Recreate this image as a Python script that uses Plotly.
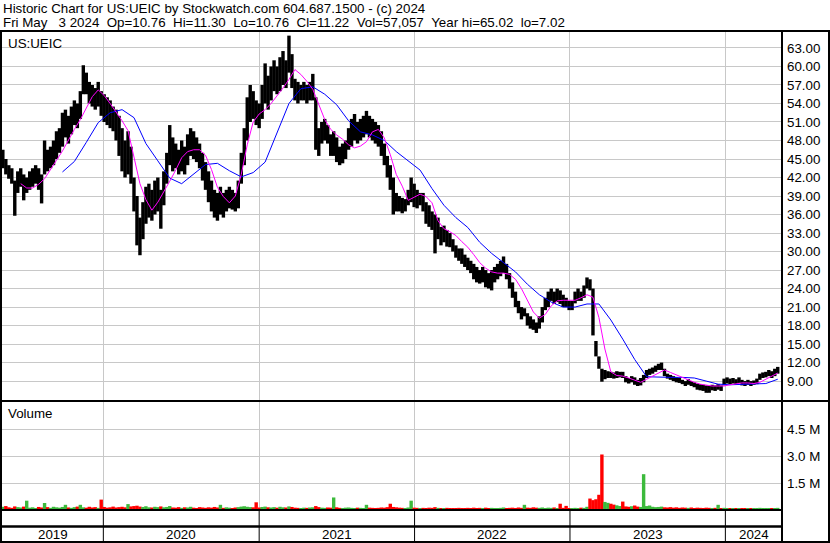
import pandas as pd
import plotly.graph_objects as go

# ---------------- data ----------------
first_week = "2019-05-10"
n_weeks = 261

week_high = [
    46.5, 45.0, 44.0, 43.5, 41.5, 43.0, 43.5, 42.5, 42.0, 43.0,
    43.5, 44.0, 43.5, 42.5, 48.0, 46.5, 47.0, 48.0, 49.5, 50.0,
    52.5, 53.0, 52.0, 53.5, 54.5, 54.0, 56.0, 60.2, 59.0, 57.5,
    57.0, 56.5, 57.5, 56.0, 55.5, 55.0, 54.5, 53.5, 53.0, 52.0,
    50.0, 48.0, 49.5, 47.0, 42.0, 39.0, 35.5, 38.0, 40.5, 41.0,
    40.0, 41.5, 42.0, 40.0, 43.0, 46.0, 50.5, 48.5, 47.5, 46.5,
    48.0, 47.0, 49.0, 50.0, 49.5, 48.5, 47.5, 46.0, 44.5, 43.0,
    41.5, 40.0, 39.5, 40.5, 39.5, 40.0, 40.5, 40.0, 39.5, 41.5,
    46.0, 50.0, 55.0, 57.0, 56.0, 54.5, 54.0, 57.0, 60.5, 58.5,
    60.0, 61.0, 60.0, 61.5, 62.5, 61.0, 65.0, 62.0, 58.0, 57.5,
    57.0, 57.5, 57.0, 57.5, 58.8, 55.0, 50.0, 51.0, 51.5, 50.5,
    49.0, 49.5, 48.5, 47.0, 47.5, 48.0, 50.0, 51.5, 52.3, 51.0,
    51.5, 52.0, 52.8, 52.0, 51.5, 51.0, 50.5, 49.5, 47.5, 45.5,
    44.0, 42.0, 39.5, 39.0, 38.7, 38.5, 40.0, 42.0, 41.0, 40.0,
    39.5, 39.5, 38.0, 37.5, 36.5, 36.0, 35.5, 34.0, 34.2, 33.5,
    33.0, 32.0, 31.0, 30.5, 30.5, 29.5, 29.0, 28.5, 28.0, 27.5,
    27.0, 27.5, 27.0, 26.5, 27.0, 27.5, 28.0, 28.5, 29.2, 28.0,
    26.5, 25.0, 23.5, 22.0, 21.0, 20.8, 20.0, 19.5, 19.0, 18.5,
    19.5, 21.0, 22.5, 23.5, 24.0, 23.5, 24.0, 23.7, 23.0, 22.5,
    22.0, 22.0, 23.5, 24.0, 23.5, 24.5, 25.8, 25.5, 24.0, 15.5,
    13.0, 11.0, 10.8, 10.6, 10.5, 10.4, 10.6, 10.5, 10.5, 9.8,
    9.5, 9.8, 9.6, 9.2, 9.5, 10.0, 10.8, 11.0, 11.2, 11.5,
    11.8, 12.0, 11.0, 10.2, 10.0, 9.8, 9.6, 9.5, 9.2, 9.0,
    9.3, 9.0, 8.8, 8.6, 8.5, 8.4, 8.3, 8.2, 8.4, 8.3,
    8.5, 8.3, 9.4, 9.6, 9.4, 9.5, 9.3, 9.6, 9.2, 9.0,
    9.2, 9.0, 9.1, 9.4, 10.2, 10.4, 10.5, 10.8, 10.6, 11.0,
    11.3,
]

week_low = [
    43.5, 42.5, 41.8, 41.0, 35.8, 39.5, 40.5, 38.3, 39.5, 40.0,
    40.5, 41.0, 40.0, 37.8, 42.5, 43.0, 43.5, 44.0, 45.0, 46.0,
    47.0, 48.5, 47.5, 49.0, 50.5, 50.0, 51.5, 55.5, 55.5, 54.0,
    53.5, 53.0, 53.5, 52.0, 51.0, 50.5, 50.0, 49.5, 48.0, 45.5,
    43.0, 42.0, 42.5, 41.0, 36.5, 31.0, 29.4, 32.0, 34.5, 35.5,
    35.0, 36.0, 36.5, 33.7, 37.5, 41.0, 44.0, 43.0, 43.5, 42.5,
    43.0, 42.5, 44.0, 45.5, 45.0, 44.5, 43.5, 41.5, 40.0, 38.0,
    36.5, 35.5, 35.0, 36.0, 35.5, 36.5, 37.0, 36.8, 36.5, 37.0,
    41.0, 44.0, 48.0, 51.0, 51.5, 50.5, 50.0, 51.5, 54.0, 53.0,
    54.5, 56.0, 55.5, 56.0, 57.0, 56.5, 59.0, 56.5, 54.5, 54.0,
    54.5, 54.5, 54.0, 54.5, 54.5, 46.5, 45.5, 47.5, 48.0, 47.5,
    45.5, 45.5, 44.5, 44.0, 44.3, 45.0, 46.5, 47.0, 48.0, 47.5,
    48.0, 48.5, 49.0, 48.5, 48.0, 47.5, 47.0, 45.5, 44.0, 42.0,
    40.0, 36.0, 36.5, 36.5, 36.2, 36.5, 37.5, 38.0, 37.2, 37.0,
    37.5, 36.5, 34.5, 34.0, 33.5, 29.7, 32.0, 31.0, 31.5, 30.8,
    30.7, 30.0, 29.0, 28.5, 28.0, 27.5, 27.0, 26.5, 25.5, 25.0,
    24.8, 25.0, 24.2, 24.0, 23.7, 25.0, 25.5, 26.0, 26.5, 25.5,
    24.0, 22.5, 21.0, 20.0, 19.0, 19.5, 18.0, 17.5, 17.3, 16.8,
    17.5, 18.5, 20.5, 21.0, 22.0, 21.5, 21.8, 21.5, 21.0, 21.0,
    20.5, 20.5, 21.6, 22.0, 22.0, 22.5, 24.0, 23.7, 16.4, 13.0,
    11.0, 8.9, 9.3, 9.5, 9.5, 9.4, 9.5, 9.6, 9.5, 8.8,
    8.6, 8.8, 8.4, 8.2, 8.3, 8.8, 9.5, 10.0, 10.2, 10.5,
    10.8, 10.8, 9.8, 9.4, 9.2, 9.0, 8.8, 8.7, 8.5, 8.2,
    8.4, 8.2, 8.0, 7.6, 7.5, 7.4, 7.1, 7.1, 7.5, 7.4,
    7.6, 7.4, 8.3, 8.6, 8.5, 8.6, 8.4, 8.7, 8.3, 8.2,
    8.4, 8.2, 8.4, 8.5, 9.2, 9.5, 9.6, 9.8, 9.5, 9.8,
    10.2,
]

# weekly volume, millions of shares
volume_m = [
    0.18, 0.22, 0.15, 0.12, 0.20, 0.16, 0.14, 0.19, 0.52, 0.13,
    0.15, 0.11, 0.17, 0.14, 0.39, 0.16, 0.12, 0.18, 0.15, 0.13,
    0.17, 0.29, 0.14, 0.12, 0.16, 0.19, 0.29, 0.15, 0.13, 0.18,
    0.14, 0.16, 0.12, 0.58, 0.17, 0.13, 0.15, 0.19, 0.14, 0.16,
    0.18, 0.15, 0.33, 0.20, 0.22, 0.24, 0.19, 0.17, 0.21, 0.15,
    0.14, 0.18, 0.16, 0.20, 0.15, 0.17, 0.22, 0.14, 0.13, 0.16,
    0.12, 0.15, 0.14, 0.18, 0.13, 0.11, 0.16, 0.14, 0.12, 0.15,
    0.13, 0.17, 0.14, 0.29, 0.12, 0.15, 0.13, 0.11, 0.14, 0.16,
    0.19, 0.21, 0.18, 0.16, 0.15, 0.43, 0.14, 0.17, 0.19, 0.15,
    0.14, 0.16, 0.13, 0.18, 0.15, 0.14, 0.20, 0.17, 0.13, 0.12,
    0.11, 0.13, 0.12, 0.14, 0.15, 0.22, 0.16, 0.13, 0.12, 0.14,
    0.13, 0.70, 0.15, 0.12, 0.11, 0.13, 0.14, 0.12, 0.10, 0.13,
    0.12, 0.11, 0.29, 0.13, 0.12, 0.10, 0.12, 0.14, 0.13, 0.16,
    0.35, 0.17, 0.15, 0.13, 0.12, 0.11, 0.14, 0.52, 0.13, 0.12,
    0.10, 0.12, 0.11, 0.13, 0.12, 0.16, 0.12, 0.10, 0.11, 0.12,
    0.10, 0.11, 0.09, 0.12, 0.11, 0.10, 0.12, 0.11, 0.13, 0.10,
    0.12, 0.11, 0.13, 0.10, 0.12, 0.11, 0.10, 0.12, 0.14, 0.11,
    0.12, 0.13, 0.11, 0.14, 0.12, 0.29, 0.13, 0.12, 0.15, 0.13,
    0.12, 0.14, 0.11, 0.13, 0.12, 0.14, 0.11, 0.35, 0.12, 0.23,
    0.11, 0.10, 0.12, 0.11, 0.13, 0.12, 0.18, 0.64, 0.55, 0.60,
    0.85, 3.10, 0.45, 0.40, 0.35, 0.30, 0.26, 0.22, 0.47, 0.20,
    0.18, 0.21, 0.25, 0.19, 0.17, 2.00, 0.22, 0.25, 0.18, 0.16,
    0.17, 0.19, 0.15, 0.14, 0.16, 0.13, 0.15, 0.12, 0.14, 0.13,
    0.12, 0.14, 0.11, 0.13, 0.12, 0.11, 0.13, 0.12, 0.10, 0.12,
    0.29, 0.11, 0.12, 0.10, 0.11, 0.09, 0.10, 0.11, 0.10, 0.09,
    0.10, 0.11, 0.09, 0.10, 0.12, 0.11, 0.10, 0.09, 0.11, 0.10,
    0.12,
]

# magenta (short) moving average, sampled every 2nd week starting at week 6
ma_short = [
    41.0, 40.3, 40.3, 40.9, 41.8, 43.4, 44.8, 46.3, 48.1, 49.8,
    51.4, 53.3, 55.1, 56.2, 55.3, 54.0, 52.7, 51.2, 49.6, 45.2,
    41.0, 38.4, 36.7, 38.0, 39.6, 41.4, 43.2, 45.2, 46.2, 46.5,
    46.5, 45.6, 43.3, 40.4, 38.9, 37.9, 39.0, 42.5, 47.3, 51.0,
    52.3, 53.0, 54.0, 55.2, 56.5, 57.9, 59.5, 58.7, 57.6, 56.3,
    53.7, 51.4, 49.8, 48.9, 48.2, 47.3, 46.8, 47.1, 47.8, 49.4,
    49.8, 48.4, 45.7, 42.5, 40.6, 38.3, 38.8, 39.3, 38.9, 37.9,
    35.0, 33.7, 33.2, 32.6, 31.6, 30.7, 29.5, 28.2, 27.3, 26.7,
    26.5, 26.5, 26.3, 25.5, 24.0, 22.1, 20.2, 19.2, 19.8, 21.2,
    22.0, 22.1, 22.1, 22.1, 22.5, 23.0, 22.6, 19.3, 14.2, 10.5,
    9.9, 9.8, 9.5, 9.2, 8.8, 9.3, 9.8, 10.4, 10.8, 10.4,
    10.0, 9.5, 9.1, 8.8, 8.5, 8.3, 8.2, 8.2, 8.2, 8.4,
    8.6, 8.7, 8.7, 8.6, 8.8, 9.3, 9.8, 10.3,
]

# blue (long) moving average, sampled every 4th week starting at week 20
ma_long = [
    42.9, 44.6, 47.7, 50.9, 52.5, 53.0, 51.7, 47.5, 44.7, 41.9,
    41.0, 42.5, 44.1, 44.3, 43.1, 42.1, 42.8, 44.5, 49.1, 54.0,
    56.4, 56.7, 55.5, 53.8, 51.2, 49.4, 48.9, 48.0, 46.2, 44.7,
    43.2, 40.2, 37.5, 35.5, 33.9, 31.5, 29.7, 28.2, 26.7, 24.7,
    23.0, 21.8, 21.0, 21.0, 21.5, 21.5, 18.9, 15.8, 12.5, 9.7,
    9.6, 9.6, 9.6, 9.5, 9.0, 8.5, 8.4, 8.5, 8.5, 8.6,
    9.3,
]

price_ticks = [9, 12, 15, 18, 21, 24, 27, 30, 33, 36, 39, 42, 45, 48, 51, 54, 57, 60, 63]
volume_ticks = [1.5, 3.0, 4.5]
volume_tick_text = ["1.5 M", "3.0 M", "4.5 M"]
year_labels = ["2019", "2020", "2021", "2022", "2023", "2024"]
year_starts = ["2020-01-01", "2021-01-01", "2022-01-01", "2023-01-01", "2024-01-01"]
x_range = ["2019-05-08", "2024-05-13"]

title_line1 = "Historic Chart for US:UEIC by Stockwatch.com 604.687.1500 - (c) 2024"
title_line2 = "Fri May   3 2024  Op=10.76  Hi=11.30  Lo=10.76  Cl=11.22  Vol=57,057  Year hi=65.02  lo=7.02"
symbol = "US:UEIC"

# ---------------- figure ----------------
W, H = 830, 543
FONT = "Liberation Sans, Arial, sans-serif"
FS = 13.33


def X(px):
    return px / W


def Y(py):
    return 1 - py / H


week_dates = pd.date_range(first_week, periods=n_weeks, freq="7D")
bar_w = 8 * 24 * 3600 * 1000

mids = [(h + l) / 2 for h, l in zip(week_high, week_low)]
vol_colors = []
for i, m in enumerate(mids):
    up = i == 0 or m >= mids[i - 1]
    vol_colors.append("#3cba3c" if up else "#ff0000")

fig = go.Figure()

fig.add_trace(go.Bar(
    x=week_dates, y=[h - l for h, l in zip(week_high, week_low)], base=week_low,
    width=bar_w, marker=dict(color="black", line=dict(width=0)),
    xaxis="x", yaxis="y", hoverinfo="skip",
))
fig.add_trace(go.Scatter(
    x=week_dates[20::4], y=ma_long, mode="lines",
    line=dict(color="#0000ff", width=1), xaxis="x", yaxis="y", hoverinfo="skip",
))
fig.add_trace(go.Scatter(
    x=week_dates[6::2], y=ma_short, mode="lines",
    line=dict(color="#ff00ff", width=1), xaxis="x", yaxis="y", hoverinfo="skip",
))
fig.add_trace(go.Bar(
    x=week_dates, y=volume_m, width=bar_w,
    marker=dict(color=vol_colors, line=dict(width=0)),
    xaxis="x2", yaxis="y2", hoverinfo="skip",
))

grid = "#c8c8c8"
common_x = dict(
    type="date", range=x_range, domain=[X(2), X(782)],
    tickvals=year_starts, showticklabels=False, ticks="",
    showgrid=True, gridcolor=grid, gridwidth=1, zeroline=False, showline=False,
)
tickfont = dict(family=FONT, size=FS, color="#000000")

fig.update_layout(
    width=W, height=H,
    margin=dict(l=0, r=0, t=0, b=0),
    paper_bgcolor="white", plot_bgcolor="white",
    showlegend=False, barmode="overlay",
    template="none",
    xaxis=dict(anchor="y", **common_x),
    xaxis2=dict(anchor="y2", matches="x", **common_x),
    yaxis=dict(
        domain=[Y(401), Y(31)], range=[5.77, 65.75], side="right", anchor="x",
        tickvals=price_ticks, ticktext=[f"{v:.2f}" for v in price_ticks],
        showgrid=True, gridcolor=grid, gridwidth=1, zeroline=False, showline=False,
        ticks="", tickfont=tickfont, ticklabelstandoff=4,
    ),
    yaxis2=dict(
        domain=[Y(510), Y(402)], range=[0, 6.03], side="right", anchor="x2",
        tickvals=volume_ticks, ticktext=volume_tick_text,
        showgrid=True, gridcolor=grid, gridwidth=1, zeroline=False, showline=False,
        ticks="", tickfont=tickfont, ticklabelstandoff=4,
    ),
)

# frame lines
shapes = []


def hline(py, x0, x1, w=2):
    shapes.append(dict(type="line", xref="paper", yref="paper", x0=X(x0), x1=X(x1),
                       y0=Y(py), y1=Y(py), line=dict(color="black", width=w)))


def vline(px, y0, y1, w=2):
    shapes.append(dict(type="line", xref="paper", yref="paper", x0=X(px), x1=X(px),
                       y0=Y(y0), y1=Y(y1), line=dict(color="black", width=w)))


hline(31, 0, 830)
hline(401, 0, 830)
hline(510, 0, 782)
hline(526.5, 0, 782, 2.5)
hline(542, 0, 830)
vline(1, 30, 543)
vline(782, 30, 543)
vline(829, 30, 543)
for ys in year_starts:
    shapes.append(dict(type="line", xref="x", yref="paper", x0=ys, x1=ys,
                       y0=Y(510), y1=Y(542), line=dict(color="black", width=1)))
fig.update_layout(shapes=shapes)

# texts
ann = []
tfont = dict(family=FONT, size=FS, color="black")
nb = lambda s: s.replace(" ", "\u00a0")
ann.append(dict(text=title_line1, xref="paper", yref="paper", x=X(1), y=Y(-1),
                xanchor="left", yanchor="top", showarrow=False, font=tfont))
ann.append(dict(text=nb(title_line2), xref="paper", yref="paper", x=X(1), y=Y(13),
                xanchor="left", yanchor="top", showarrow=False, font=tfont))
ann.append(dict(text=symbol, xref="paper", yref="paper", x=X(6), y=Y(33.5),
                xanchor="left", yanchor="top", showarrow=False, font=tfont))
ann.append(dict(text="Volume", xref="paper", yref="paper", x=X(6), y=Y(403.5),
                xanchor="left", yanchor="top", showarrow=False, font=tfont))

bounds = [pd.Timestamp(x_range[0])] + [pd.Timestamp(d) for d in year_starts] + [pd.Timestamp(x_range[1])]
for lab, a, b in zip(year_labels, bounds[:-1], bounds[1:]):
    mid = a + (b - a) / 2
    ann.append(dict(text=lab, xref="x", yref="paper", x=mid, y=Y(534.5),
                    xanchor="center", yanchor="middle", showarrow=False, font=tfont))
fig.update_layout(annotations=ann)

fig.write_html(
    "out.html",
    config={"displayModeBar": False},
    post_script="document.body.style.margin='0';document.body.style.padding='0';",
)
